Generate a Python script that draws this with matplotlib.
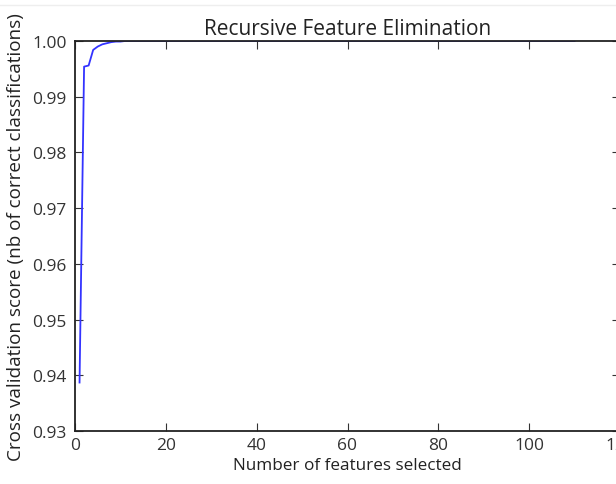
import matplotlib
matplotlib.use("Agg")
import matplotlib.pyplot as plt
from matplotlib.lines import Line2D

n_features = list(range(1, 111))
scores = [
    0.9387, 0.9954, 0.9956, 0.9984, 0.9990, 0.9994, 0.9996, 0.9998, 0.9999, 0.9999,
    1.0, 1.0, 1.0, 1.0, 1.0, 1.0, 1.0, 1.0, 1.0, 1.0,
    1.0, 1.0, 1.0, 1.0, 1.0, 1.0, 1.0, 1.0, 1.0, 1.0,
    1.0, 1.0, 1.0, 1.0, 1.0, 1.0, 1.0, 1.0, 1.0, 1.0,
    1.0, 1.0, 1.0, 1.0, 1.0, 1.0, 1.0, 1.0, 1.0, 1.0,
    1.0, 1.0, 1.0, 1.0, 1.0, 1.0, 1.0, 1.0, 1.0, 1.0,
    1.0, 1.0, 1.0, 1.0, 1.0, 1.0, 1.0, 1.0, 1.0, 1.0,
    1.0, 1.0, 1.0, 1.0, 1.0, 1.0, 1.0, 1.0, 1.0, 1.0,
    1.0, 1.0, 1.0, 1.0, 1.0, 1.0, 1.0, 1.0, 1.0, 1.0,
    1.0, 1.0, 1.0, 1.0, 1.0, 1.0, 1.0, 1.0, 1.0, 1.0,
    1.0, 1.0, 1.0, 1.0, 1.0, 1.0, 1.0, 1.0, 1.0, 1.0,
]
x_ticks = [0, 20, 40, 60, 80, 100, 120]
y_ticks = [0.93, 0.94, 0.95, 0.96, 0.97, 0.98, 0.99, 1.00]

plt.rcParams['font.family'] = ['Open Sans', 'DejaVu Sans']

W, H = 616, 485
fig = plt.figure(figsize=(W / 100, H / 100), dpi=100)
ax = fig.add_axes([75 / W, 1 - 432 / H, 545 / W, 390 / H])

ax.plot(n_features, scores, color='#3333ff', lw=1.3)
ax.set_xlim(0, 120)
ax.set_ylim(0.93, 1.00)
ax.set_xticks(x_ticks)
ax.set_yticks(y_ticks)
ax.set_yticklabels([f"{v:.2f}" for v in y_ticks])
ax.tick_params(direction='in', top=True, right=True, length=6, width=0.8,
               labelsize=12.5, colors='#333333')
ax.tick_params(axis='y', pad=6)
ax.tick_params(axis='x', pad=4)
for s in ax.spines.values():
    s.set_linewidth(1.3)
    s.set_color('#222222')

ax.set_title("Recursive Feature Elimination", fontsize=15, color='#222222', pad=5)
ax.set_xlabel("Number of features selected", fontsize=12.3, color='#222222', labelpad=3)
ax.set_ylabel("Cross validation score (nb of correct classifications)", fontsize=13.6,
              color='#222222', labelpad=5)

fig.add_artist(Line2D([0, 1], [1 - 6 / H, 1 - 6 / H], transform=fig.transFigure,
                      color='#eeeeee', lw=1))

fig.savefig("out.png", dpi=100)
